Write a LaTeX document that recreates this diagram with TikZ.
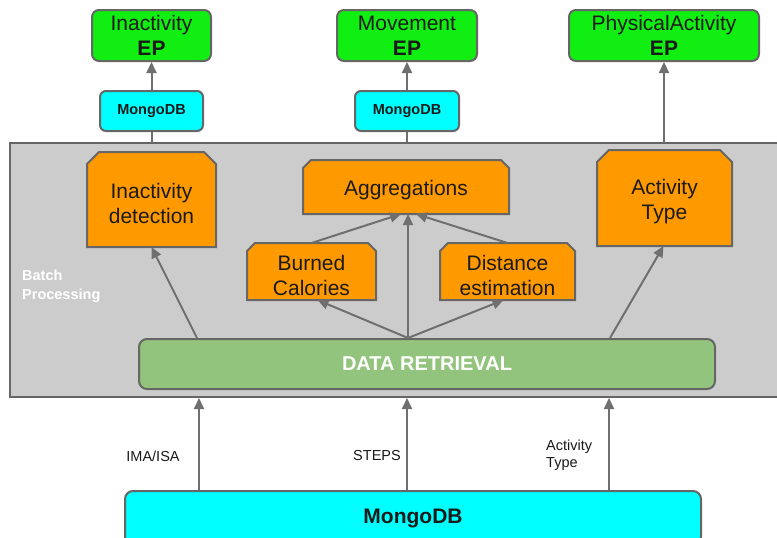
\documentclass[tikz,border=0pt]{standalone}
\usepackage{fontspec}
\setmainfont{Liberation Sans}
\usetikzlibrary{arrows.meta,calc}
\pgfdeclarelayer{hidden}
\pgfdeclarelayer{panel}
\pgfdeclarelayer{shapes}
\pgfsetlayers{hidden,panel,shapes,main}
\definecolor{epgreen}{HTML}{11EE11}
\definecolor{dbcyan}{HTML}{00FFFF}
\definecolor{procorange}{HTML}{FF9900}
\definecolor{drgreen}{HTML}{93C47D}
\definecolor{panelgray}{HTML}{CCCCCC}
\definecolor{edgegray}{HTML}{666666}
\definecolor{arrowgray}{HTML}{6F6F6F}
\definecolor{textdark}{HTML}{1A1A1A}
\newcommand{\chamfbox}[2]{%
  \begin{pgfonlayer}{shapes}
  \draw[draw=edgegray,line width=2pt,fill=procorange]
    (#1.south west) -- ([yshift=-#2pt]#1.north west) -- ([xshift=#2pt]#1.north west)
    -- ([xshift=-#2pt]#1.north east) -- ([yshift=-#2pt]#1.north east)
    -- (#1.south east) -- cycle;
  \end{pgfonlayer}}
\tikzset{
  epbox/.style={draw=edgegray, line width=2pt, fill=epgreen, rounded corners=7pt,
    minimum height=51pt, inner sep=0pt, align=center, text=textdark,
    font=\fontsize{21}{25}\selectfont},
  dbsmall/.style={draw=edgegray, line width=2pt, fill=dbcyan, rounded corners=6pt,
    minimum height=40pt, inner sep=0pt, text=textdark,
    font=\bfseries\fontsize{14.5}{17}\selectfont},
  procbox/.style={inner sep=0pt, outer sep=0pt},
  proctext/.style={inner sep=0pt, align=center, text=textdark, yshift=-3.5pt,
    font=\fontsize{21}{25}\selectfont},
  conn/.style={draw=arrowgray, line width=2pt},
  arr/.style={conn, -{Triangle[length=11pt,width=10pt]}},
  lbl/.style={inner sep=0pt, text=textdark, font=\fontsize{14.5}{17}\selectfont},
}
\begin{document}
\begin{tikzpicture}[x=1pt,y=-1pt]
\useasboundingbox (0,0) rectangle (777,538);
\begin{pgfonlayer}{hidden}
\fill[white] (0,0) rectangle (777,538);
\end{pgfonlayer}

% top event processors
\node[epbox, minimum width=119pt] (ep1) at (151.5,35.5) {Inactivity\\\textbf{EP}};
\node[epbox, minimum width=140pt] (ep2) at (407,35.5) {Movement\\\textbf{EP}};
\node[epbox, minimum width=190pt] (ep3) at (664,35.5) {PhysicalActivity\\\textbf{EP}};

% small MongoDB stores
\node[dbsmall, minimum width=103pt] (db1) at (151.5,111) {MongoDB};
\node[dbsmall, minimum width=104pt] (db2) at (407,111) {MongoDB};

% batch panel
\begin{pgfonlayer}{panel}
\node[draw=edgegray, line width=2pt, fill=panelgray, minimum width=771pt,
      minimum height=254pt, inner sep=0pt] (batch) at (395.5,270) {};
\end{pgfonlayer}
\node[anchor=west, align=left, inner sep=0pt, text=white,
      font=\bfseries\fontsize{14.5}{19}\selectfont] (bp) at (22,286.5) {Batch\\Processing};

% processing boxes
\node[procbox, minimum width=129pt, minimum height=95pt,
      label={[proctext]center:Inactivity\\detection}] (inact) at (151.5,199.5) {};
\node[procbox, minimum width=206pt, minimum height=54pt,
      label={[proctext]center:Aggregations}] (aggr) at (406,187) {};
\node[procbox, minimum width=129pt, minimum height=57pt,
      label={[proctext]center:Burned\\Calories}] (burn) at (311.5,271.5) {};
\node[procbox, minimum width=135pt, minimum height=57pt,
      label={[proctext]center:Distance\\estimation}] (dist) at (507.5,271.5) {};
\node[procbox, minimum width=135pt, minimum height=96pt,
      label={[proctext]center:Activity\\Type}] (acttype) at (664.5,198) {};
\chamfbox{inact}{12}
\chamfbox{aggr}{8}
\chamfbox{burn}{8}
\chamfbox{dist}{8}
\chamfbox{acttype}{12}

% data retrieval
\node[draw=edgegray, line width=2pt, fill=drgreen, rounded corners=8pt,
      minimum width=576pt, minimum height=50pt, inner sep=0pt, text=white,
      font=\bfseries\fontsize{20}{24}\selectfont] (dr) at (427,364) {DATA RETRIEVAL};

% bottom MongoDB
\node[draw=edgegray, line width=2pt, fill=dbcyan, rounded corners=8pt,
      minimum width=576pt, minimum height=54pt, inner sep=0pt, text=textdark,
      font=\bfseries\fontsize{21}{24}\selectfont] (mongo) at (413,518) {MongoDB};

% hidden connectors (behind the panel)
\begin{pgfonlayer}{hidden}
\draw[conn] (inact.north) -- (db1.south);
\draw[conn] (aggr.north -| db2.south) -- (db2.south);
\draw[arr] (acttype.north -| ep3.south) -- (ep3.south);
\end{pgfonlayer}

% upper arrows
\draw[arr] (db1.north) -- (ep1.south);
\draw[arr] (db2.north) -- (ep2.south);

% arrows inside the panel
\coordinate (o1) at (197,339);
\coordinate (o2) at (408,339);
\coordinate (o3) at (610,339);
\draw[arr] (dr.north -| o1) -- (inact.south);
\draw[arr] (dr.north -| o2) -- ([xshift=6pt]burn.south);
\draw[arr] (dr.north -| o2) -- (aggr.south -| o2);
\draw[arr] (dr.north -| o2) -- ([xshift=-4pt]dist.south);
\draw[arr] (burn.north) -- ([xshift=-7pt]aggr.south -| o2);
\draw[arr] (dist.north) -- ([xshift=8pt]aggr.south -| o2);
\draw[arr] (dr.north -| o3) -- ([xshift=-1pt]acttype.south);

% bottom arrows
\coordinate (b1) at (199,0);
\coordinate (b2) at (407,0);
\coordinate (b3) at (609,0);
\draw[arr] (mongo.north -| b1) -- (batch.south -| b1);
\draw[arr] (mongo.north -| b2) -- (batch.south -| b2);
\draw[arr] (mongo.north -| b3) -- (batch.south -| b3);

% labels
\node[lbl] (l1) at (153,456) {IMA/ISA};
\node[lbl] (l2) at (377,456) {STEPS};
\node[lbl, anchor=west, align=left] (l3) at (546,455.5) {Activity\\Type};
\end{tikzpicture}
\end{document}
